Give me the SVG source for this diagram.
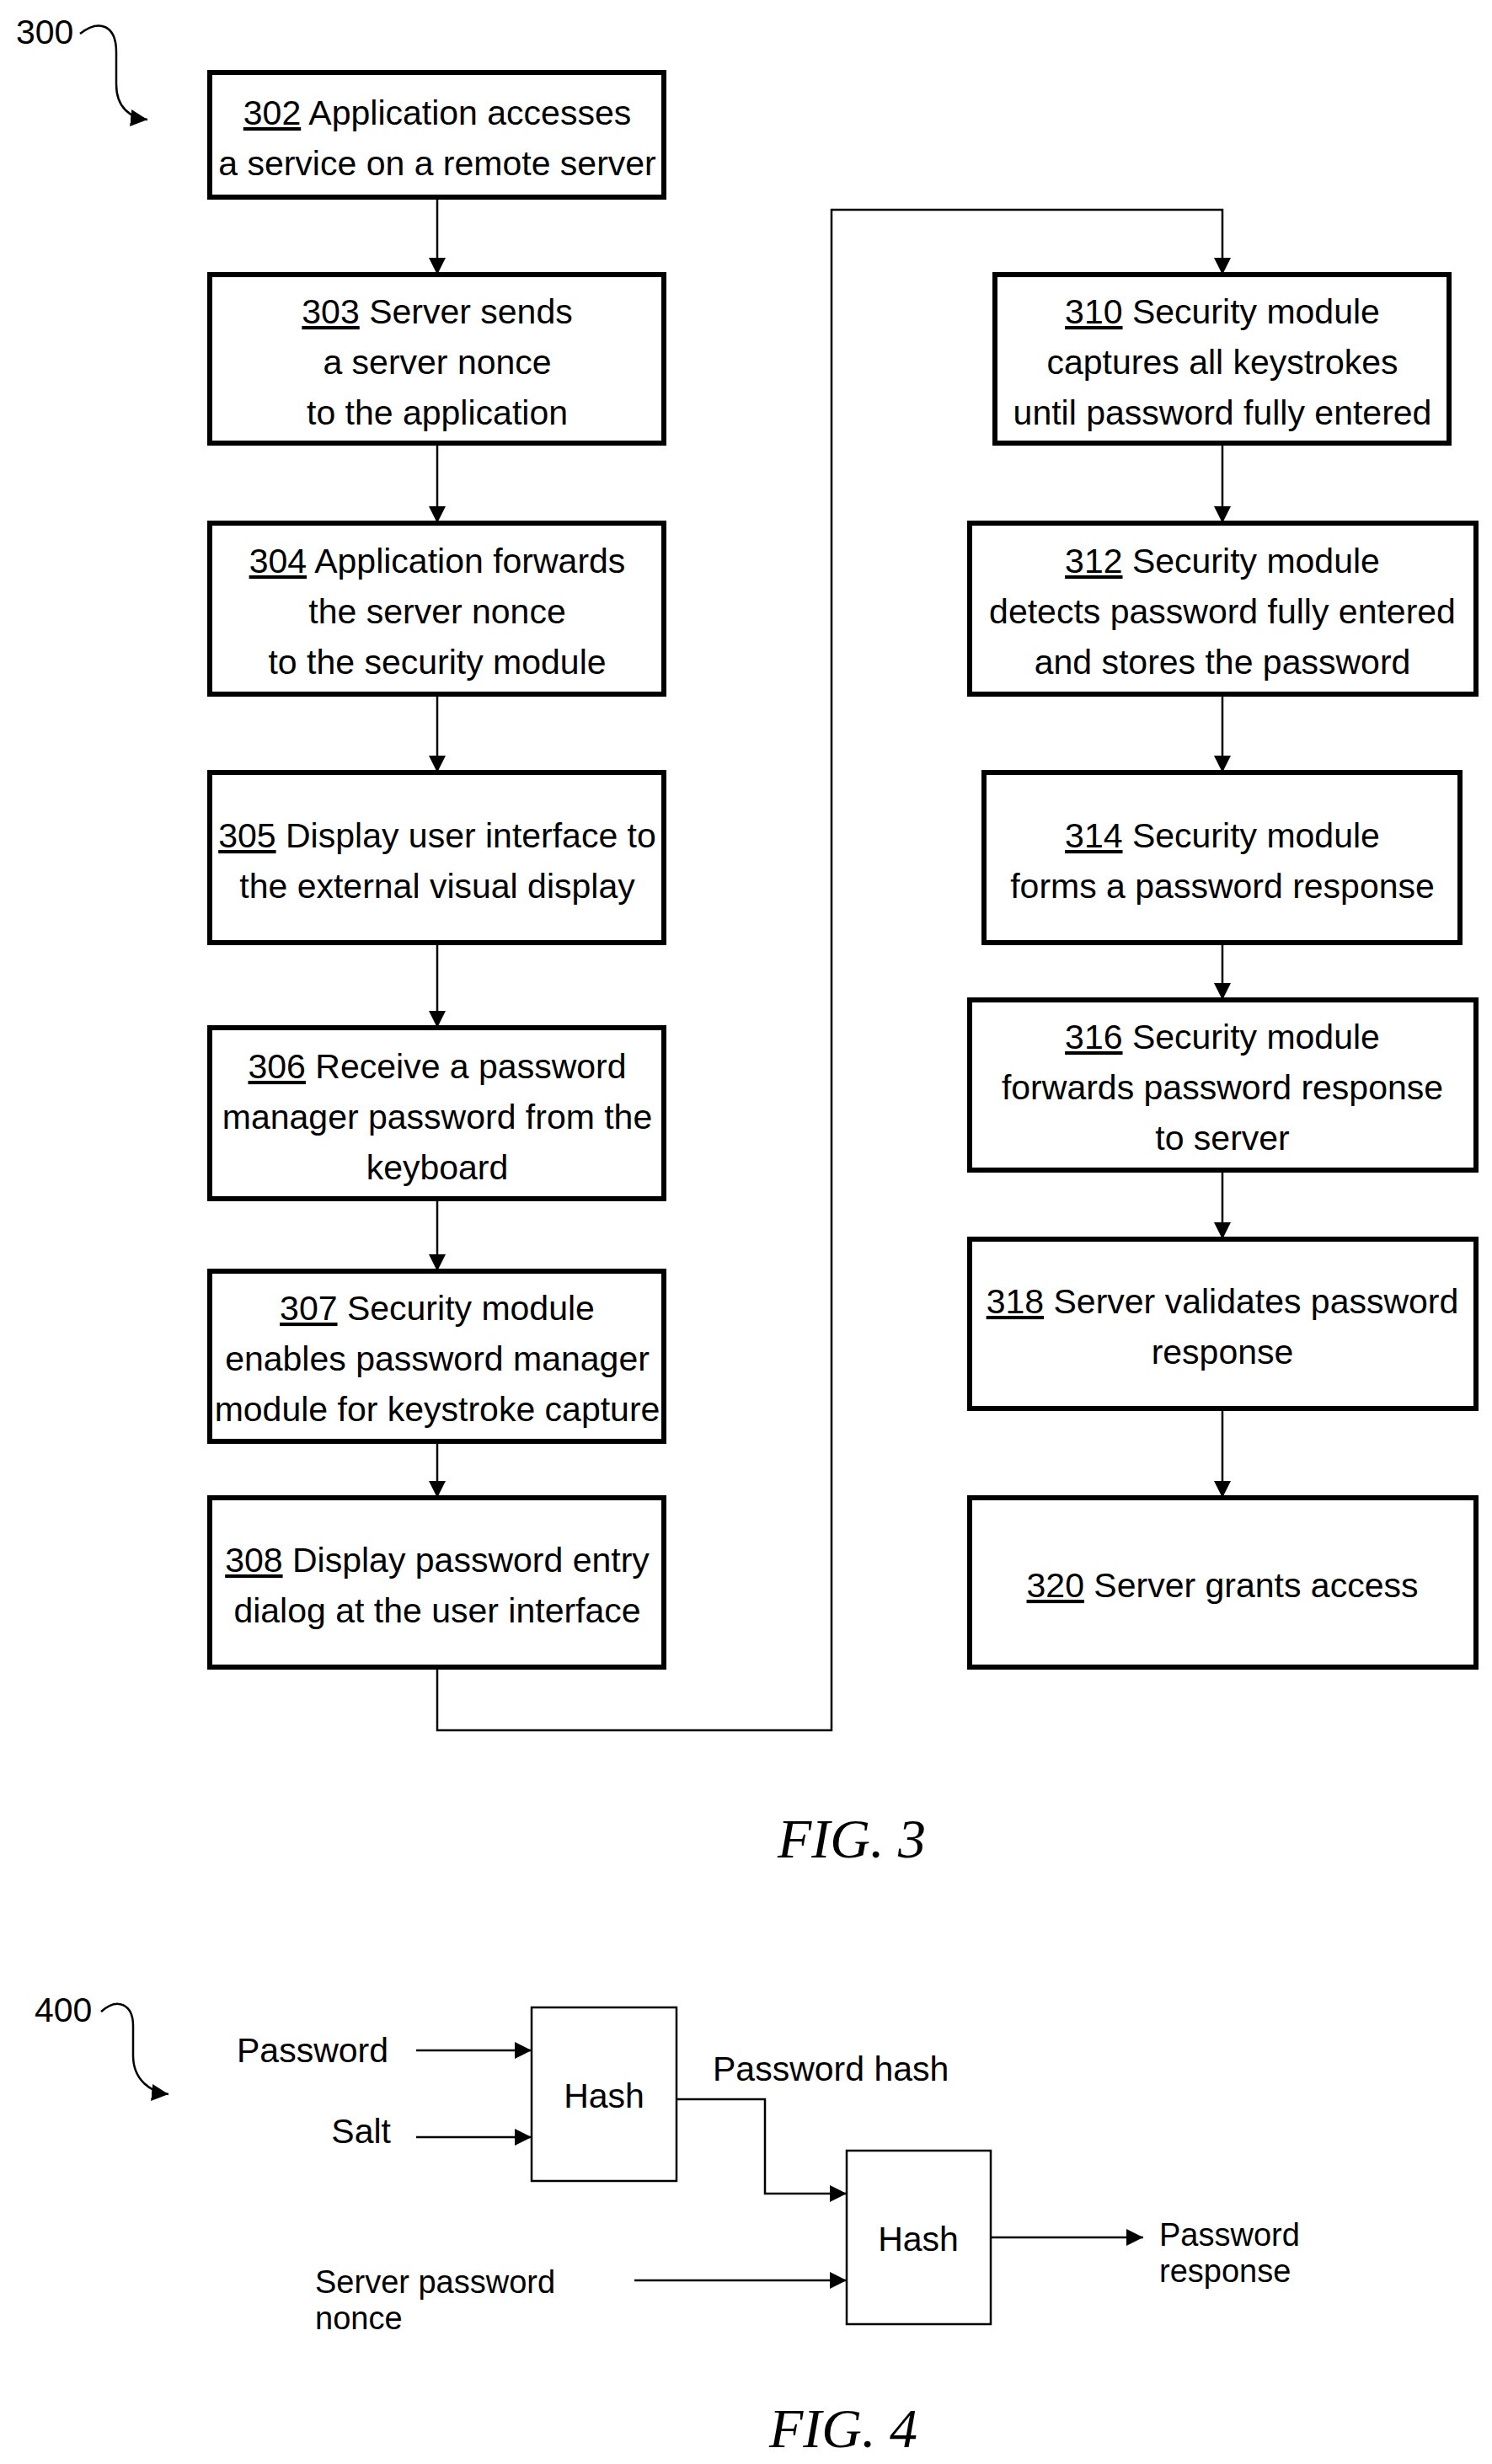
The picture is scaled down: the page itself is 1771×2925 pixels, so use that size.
<svg xmlns="http://www.w3.org/2000/svg" width="1771" height="2925" viewBox="0 0 1771 2925">
<style>
.b{fill:#fff;stroke:#000;stroke-width:6}
.b2{fill:#fff;stroke:#000;stroke-width:2.5}
.t{font-family:"Liberation Sans",Arial,sans-serif;font-size:41px;text-anchor:middle;fill:#000}
.l{font-family:"Liberation Sans",Arial,sans-serif;font-size:41px;fill:#000}
.s{font-family:"Liberation Sans",Arial,sans-serif;font-size:38px;fill:#000}
.u{text-decoration:underline}
.c{fill:none;stroke:#000;stroke-width:2.5}
.f{font-family:"Liberation Serif","Times New Roman",serif;font-style:italic;font-size:66px;text-anchor:middle}
</style>
<defs>
<marker id="m" viewBox="0 0 20 20" refX="20" refY="10" markerWidth="20" markerHeight="20" orient="auto" markerUnits="userSpaceOnUse">
<path d="M0,0 L20,10 L0,20 z" fill="#000"/>
</marker>
</defs>
<text class="l" x="19" y="52">300</text>
<path class="c" d="M95 40 C118 22,138 30,138 62 L138 100 C138 128,155 140,175 142" marker-end="url(#m)"/>
<g id="connectors">
<line class="c" x1="519" y1="234" x2="519" y2="326" marker-end="url(#m)"/>
<line class="c" x1="519" y1="526" x2="519" y2="621" marker-end="url(#m)"/>
<line class="c" x1="519" y1="824" x2="519" y2="917" marker-end="url(#m)"/>
<line class="c" x1="519" y1="1119" x2="519" y2="1220" marker-end="url(#m)"/>
<line class="c" x1="519" y1="1423" x2="519" y2="1509" marker-end="url(#m)"/>
<line class="c" x1="519" y1="1711" x2="519" y2="1778" marker-end="url(#m)"/>
<path class="c" d="M519 1979 L519 2054 L987 2054 L987 249 L1451 249 L1451 326" marker-end="url(#m)"/>
<line class="c" x1="1451" y1="526" x2="1451" y2="621" marker-end="url(#m)"/>
<line class="c" x1="1451" y1="824" x2="1451" y2="917" marker-end="url(#m)"/>
<line class="c" x1="1451" y1="1119" x2="1451" y2="1187" marker-end="url(#m)"/>
<line class="c" x1="1451" y1="1389" x2="1451" y2="1471" marker-end="url(#m)"/>
<line class="c" x1="1451" y1="1672" x2="1451" y2="1778" marker-end="url(#m)"/>
<line class="c" x1="494" y1="2434" x2="631" y2="2434" marker-end="url(#m)"/>
<line class="c" x1="494" y1="2537" x2="631" y2="2537" marker-end="url(#m)"/>
<path class="c" d="M803 2492 L908 2492 L908 2604 L1005 2604" marker-end="url(#m)"/>
<line class="c" x1="753" y1="2707" x2="1005" y2="2707" marker-end="url(#m)"/>
<line class="c" x1="1176" y1="2656" x2="1357" y2="2656" marker-end="url(#m)"/>
</g>
<g id="n302"><rect class="b" x="249" y="86" width="539" height="148"/><text class="t" x="519" y="148"><tspan class="u">302</tspan> Application accesses</text><text class="t" x="519" y="208">a service on a remote server</text></g>
<g id="n303"><rect class="b" x="249" y="326" width="539" height="200"/><text class="t" x="519" y="384"><tspan class="u">303</tspan> Server sends</text><text class="t" x="519" y="444">a server nonce</text><text class="t" x="519" y="504">to the application</text></g>
<g id="n304"><rect class="b" x="249" y="621" width="539" height="203"/><text class="t" x="519" y="680"><tspan class="u">304</tspan> Application forwards</text><text class="t" x="519" y="740">the server nonce</text><text class="t" x="519" y="800">to the security module</text></g>
<g id="n305"><rect class="b" x="249" y="917" width="539" height="202"/><text class="t" x="519" y="1006"><tspan class="u">305</tspan> Display user interface to</text><text class="t" x="519" y="1066">the external visual display</text></g>
<g id="n306"><rect class="b" x="249" y="1220" width="539" height="203"/><text class="t" x="519" y="1280"><tspan class="u">306</tspan> Receive a password</text><text class="t" x="519" y="1340">manager password from the</text><text class="t" x="519" y="1400">keyboard</text></g>
<g id="n307"><rect class="b" x="249" y="1509" width="539" height="202"/><text class="t" x="519" y="1567"><tspan class="u">307</tspan> Security module</text><text class="t" x="519" y="1627">enables password manager</text><text class="t" x="519" y="1687">module for keystroke capture</text></g>
<g id="n308"><rect class="b" x="249" y="1778" width="539" height="201"/><text class="t" x="519" y="1866"><tspan class="u">308</tspan> Display password entry</text><text class="t" x="519" y="1926">dialog at the user interface</text></g>
<g id="n310"><rect class="b" x="1181" y="326" width="539" height="200"/><text class="t" x="1451" y="384"><tspan class="u">310</tspan> Security module</text><text class="t" x="1451" y="444">captures all keystrokes</text><text class="t" x="1451" y="504">until password fully entered</text></g>
<g id="n312"><rect class="b" x="1151" y="621" width="601" height="203"/><text class="t" x="1451" y="680"><tspan class="u">312</tspan> Security module</text><text class="t" x="1451" y="740">detects password fully entered</text><text class="t" x="1451" y="800">and stores the password</text></g>
<g id="n314"><rect class="b" x="1168" y="917" width="565" height="202"/><text class="t" x="1451" y="1006"><tspan class="u">314</tspan> Security module</text><text class="t" x="1451" y="1066">forms a password response</text></g>
<g id="n316"><rect class="b" x="1151" y="1187" width="601" height="202"/><text class="t" x="1451" y="1245"><tspan class="u">316</tspan> Security module</text><text class="t" x="1451" y="1305">forwards password response</text><text class="t" x="1451" y="1365">to server</text></g>
<g id="n318"><rect class="b" x="1151" y="1471" width="601" height="201"/><text class="t" x="1451" y="1559"><tspan class="u">318</tspan> Server validates password</text><text class="t" x="1451" y="1619">response</text></g>
<g id="n320"><rect class="b" x="1151" y="1778" width="601" height="201"/><text class="t" x="1451" y="1896"><tspan class="u">320</tspan> Server grants access</text></g>
<text class="f" x="1011" y="2205">FIG. 3</text>
<text class="l" x="41" y="2400">400</text>
<path class="c" d="M120 2388 C140 2370,158 2380,158 2405 L158 2440 C158 2470,180 2484,200 2486" marker-end="url(#m)"/>
<g id="h1"><rect class="b2" x="631" y="2383" width="172" height="206"/><text class="t" x="717" y="2502">Hash</text></g>
<g id="h2"><rect class="b2" x="1005" y="2553" width="171" height="206"/><text class="t" x="1090" y="2672">Hash</text></g>
<text class="l" x="281" y="2448">Password</text>
<text class="l" x="464" y="2544" text-anchor="end">Salt</text>
<text class="l" x="846" y="2470">Password hash</text>
<text class="s" x="374" y="2722">Server password</text>
<text class="s" x="374" y="2765">nonce</text>
<text class="s" x="1376" y="2666">Password</text>
<text class="s" x="1376" y="2709">response</text>
<text class="f" x="1001" y="2905">FIG. 4</text>
</svg>
